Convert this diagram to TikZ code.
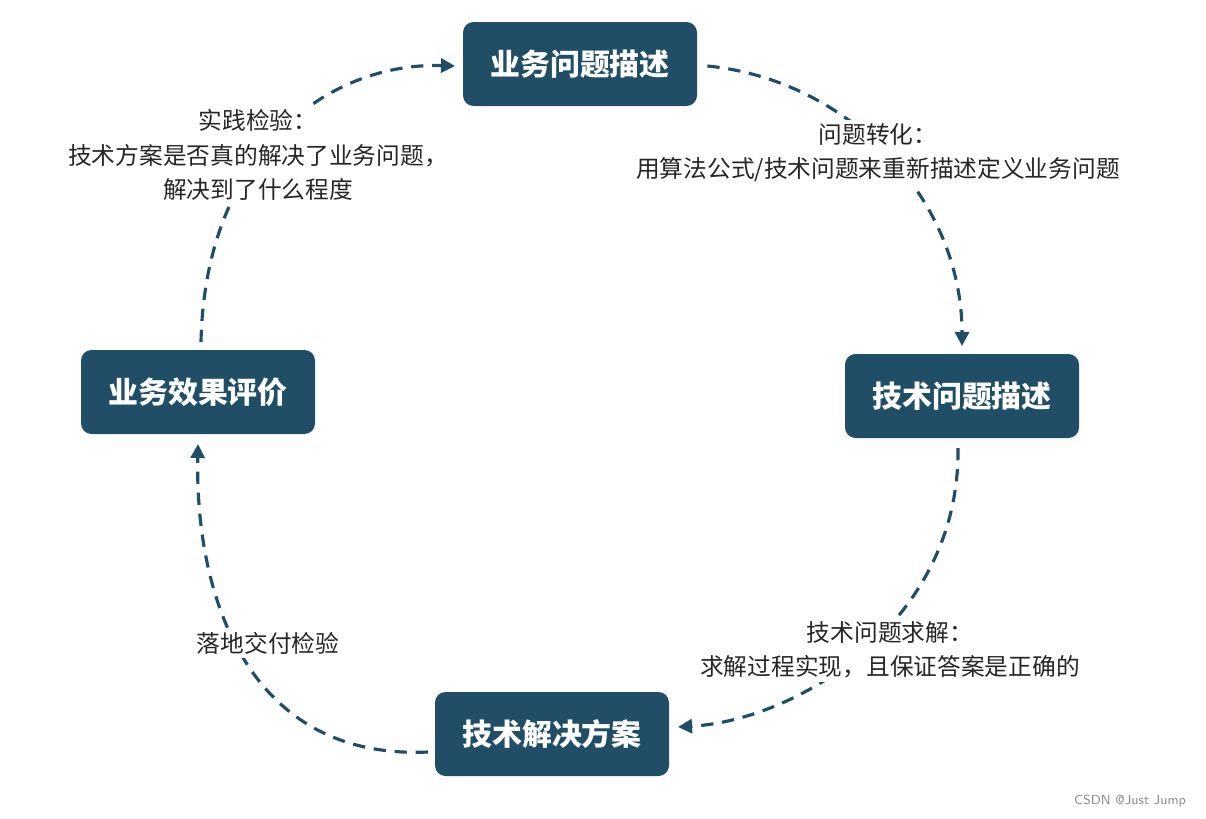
\documentclass[tikz,border=0pt]{standalone}
\usepackage{fontspec}
\setmainfont{Noto Sans CJK SC}
\usetikzlibrary{arrows.meta}
\definecolor{box}{HTML}{1F4E66}
\begin{document}
\begin{tikzpicture}[x=0.02cm,y=-0.02cm,
  stage/.style={fill=box,rounded corners=6pt,minimum width=234*0.02cm,minimum height=84*0.02cm,text=white,font=\fontsize{17}{20}\selectfont\bfseries},
  lab/.style={fill=white,align=center,font=\fontsize{13.5}{19.5}\selectfont,text=black!85,inner sep=2pt},
  flow/.style={draw=box,line width=1.8pt,dash pattern=on 7pt off 5pt,-{Triangle[length=8pt,width=8pt]}}]
\useasboundingbox (0,0) rectangle (1206,818);
\node[stage] (a) at (580,64) {业务问题描述};
\node[stage] (b) at (962,396) {技术问题描述};
\node[stage] (c) at (552,734) {技术解决方案};
\node[stage] (d) at (198,392) {业务效果评价};
\draw[flow] (a.east)++(10,2) coordinate (a1) .. controls (850,80) and (962,200) .. (962,346) coordinate (b1);
\draw[flow] (958,448) coordinate (b2) .. controls (960,620) and (800,720) .. (678,727) coordinate (c1);
\draw[flow] (428,752) coordinate (c2) .. controls (250,760) and (195,600) .. (198,444) coordinate (d1);
\draw[flow] (201,342) coordinate (d2) .. controls (205,150) and (330,62) .. (455,66) coordinate (a2);
\node[lab] (l1) at (878,153) {问题转化：\\用算法公式/技术问题来重新描述定义业务问题};
\node[lab] (l2) at (890,650) {技术问题求解：\\求解过程实现，且保证答案是正确的};
\node[lab] (l3) at (268,643) {落地交付检验};
\node[lab] (l4) at (258,155) {实践检验：\\技术方案是否真的解决了业务问题，\\解决到了什么程度};
\node[font=\fontsize{7.5}{9}\selectfont\sffamily,text=black!45] (w) at (1130,801) {CSDN @Just Jump};
\end{tikzpicture}
\end{document}
